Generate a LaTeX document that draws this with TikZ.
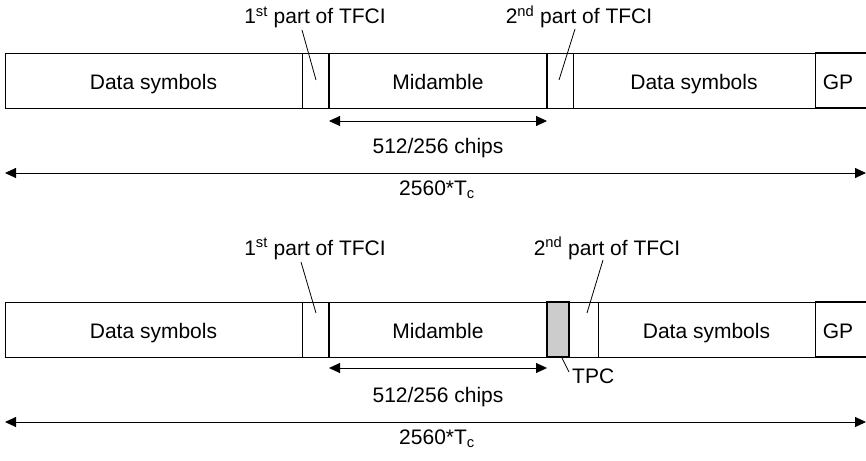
\documentclass[tikz,border=0pt]{standalone}
\usepackage{fontspec}
\setmainfont{Liberation Sans}
\usetikzlibrary{arrows.meta}
\tikzset{
  lbl/.style={font=\fontsize{21}{25}\selectfont, inner sep=0pt},
  seg/.style={draw, line width=0.9pt, minimum height=55pt, inner sep=0pt, outer sep=0pt, anchor=north west, text height=17.5pt, text depth=0pt, font=\fontsize{21}{25}\selectfont},
  heavy/.style={line width=2.2pt},
  pointer/.style={line width=0.8pt},
  dim/.style={line width=0.9pt, {Triangle[length=11pt,width=10pt]}-{Triangle[length=11pt,width=10pt]}},
  tpcbox/.style={draw, line width=2pt, fill=black!20, minimum height=55pt, minimum width=22pt, inner sep=0pt, outer sep=0pt, anchor=north west}
}
\begin{document}
\begin{tikzpicture}[x=1pt,y=-1pt]
\useasboundingbox (0,0) rectangle (866,460);
% ---------- top frame ----------
\node[seg, minimum width=297pt] (d1) at (5,53) {Data symbols};
\node[seg, minimum width=27pt] (t1) at (302,53) {};
\node[seg, minimum width=218pt] (m) at (329,53) {Midamble};
\node[seg, minimum width=26pt] (t2) at (547,53) {};
\node[seg, minimum width=242pt] (d2) at (573,53) {Data symbols};
\node[seg, minimum width=54pt, draw=none] (gp) at (815,53) {\hspace*{-8pt}GP};
\draw[heavy] (m.north west) -- (m.south west);
\draw[heavy] (m.north east) -- (m.south east);
\draw[line width=0.9pt] (gp.north west) -- (gp.south west);
\draw[line width=1.6pt] (gp.north west) -- (gp.north east);
\draw[line width=1.6pt] (gp.south west) -- (gp.south east);
% labels
\node[lbl, anchor=base] (l1) at (315,24) {1\textsuperscript{st} part of TFCI};
\node[lbl, anchor=base] (l2) at (579,24) {2\textsuperscript{nd} part of TFCI};
\coordinate (l1s) at (302,30); \coordinate (l1e) at (316,80);
\coordinate (l2s) at (575,29); \coordinate (l2e) at (559,80);
\draw[pointer] (l1s) -- (l1e);
\draw[pointer] (l2s) -- (l2e);
% dimensions
\coordinate (a1) at (329,121); \coordinate (a2) at (547,121);
\draw[dim] (a1) -- (a2);
\node[lbl, anchor=base] (c1) at (438,153) {512/256 chips};
\coordinate (b1) at (5,173); \coordinate (b2) at (866,173);
\draw[dim] (b1) -- (b2);
\node[lbl, anchor=base] (tc1) at (437,195) {2560*T\textsubscript{c}};
% ---------- bottom frame ----------
\node[seg, minimum width=297pt] (D1) at (5,302) {Data symbols};
\node[seg, minimum width=27pt] (T1) at (302,302) {};
\node[seg, minimum width=218pt] (M) at (329,302) {Midamble};
\node[tpcbox] (P) at (547,302) {};
\node[seg, minimum width=29pt] (T2) at (569,302) {};
\node[seg, minimum width=217pt] (D2) at (598,302) {Data symbols};
\node[seg, minimum width=54pt, draw=none] (GP) at (815,302) {\hspace*{-8pt}GP};
\draw[heavy] (M.north west) -- (M.south west);
\draw[line width=2pt, fill=black!20] (P.north west) rectangle (P.south east);
\draw[line width=0.9pt] (GP.north west) -- (GP.south west);
\draw[line width=1.6pt] (GP.north west) -- (GP.north east);
\draw[line width=1.6pt] (GP.south west) -- (GP.south east);
% labels
\node[lbl, anchor=base] (L1) at (315,255) {1\textsuperscript{st} part of TFCI};
\node[lbl, anchor=base] (L2) at (607,255) {2\textsuperscript{nd} part of TFCI};
\coordinate (L1s) at (301,262); \coordinate (L1e) at (316,313);
\coordinate (L2s) at (603,260); \coordinate (L2e) at (587,313);
\draw[pointer] (L1s) -- (L1e);
\draw[pointer] (L2s) -- (L2e);
\node[lbl, anchor=base west] (tpc) at (572,383) {TPC};
\coordinate (Ps) at (561,356); \coordinate (Pe) at (569,372);
\draw[pointer] (Ps) -- (Pe);
% dimensions
\coordinate (A1) at (329,368); \coordinate (A2) at (547,368);
\draw[dim] (A1) -- (A2);
\node[lbl, anchor=base] (C1) at (438,402) {512/256 chips};
\coordinate (B1) at (5,422); \coordinate (B2) at (866,422);
\draw[dim] (B1) -- (B2);
\node[lbl, anchor=base] (TC1) at (437,444) {2560*T\textsubscript{c}};
\end{tikzpicture}
\end{document}
